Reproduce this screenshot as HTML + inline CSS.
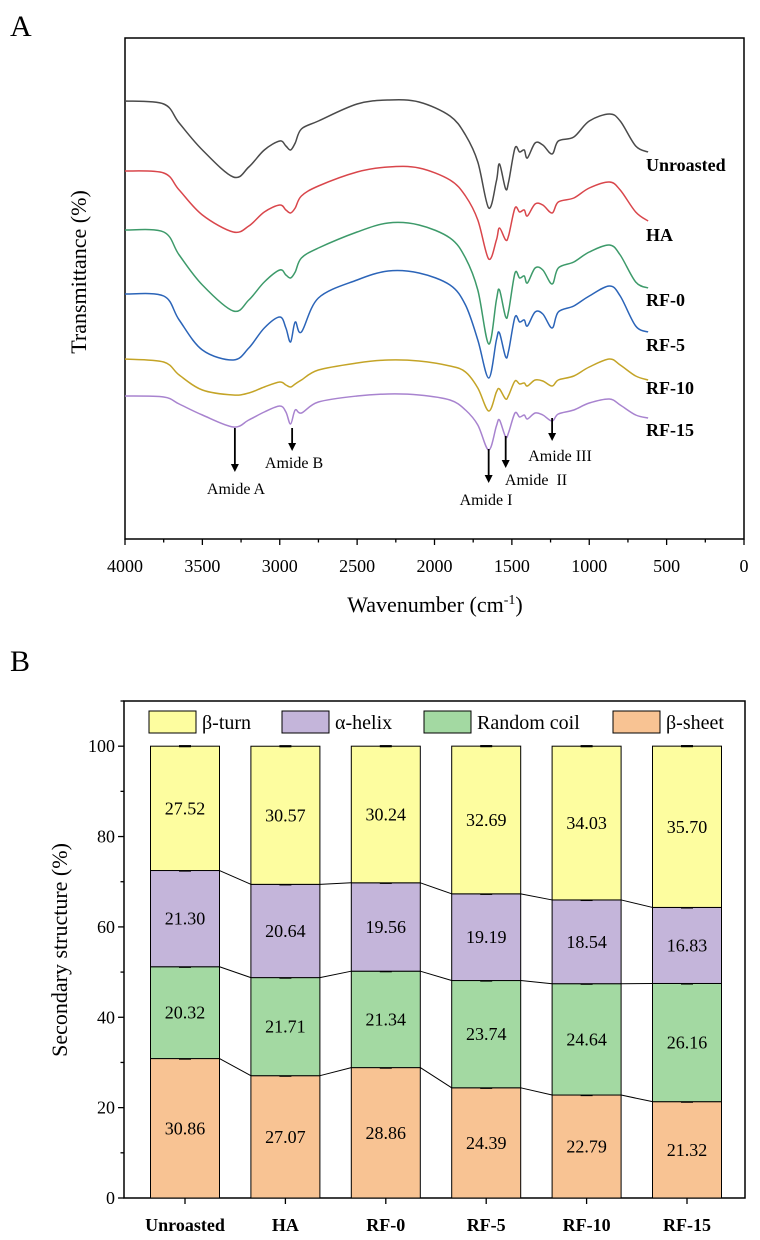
<!DOCTYPE html>
<html><head><meta charset="utf-8"><style>
html,body{margin:0;padding:0;background:#fff;}
svg{display:block;font-family:"Liberation Serif",serif;}
</style></head><body>
<svg id="fig" width="760" height="1240" viewBox="0 0 760 1240" xmlns="http://www.w3.org/2000/svg">
<text x="10" y="36" font-size="30">A</text>
<text x="10" y="671" font-size="30">B</text>
<g id="pa"></g>
<g id="pb"></g>
</svg>
<script>
// ---------- Panel A data ----------
const wavenumbers = [4000,3750,3650,3500,3300,3200,3100,3000,2960,2930,2900,2860,2750,2500,2300,2100,1900,1800,1720,1650,1600,1580,1540,1520,1480,1450,1420,1400,1350,1300,1240,1200,1100,1000,870,800,700,620];
// signal offset units (larger = lower on plot)
const unroasted = [101,104,123,150,177,167,150,141,146,150,143,129,121,104,100,102,116,135,162,208,181,164,189,181,148,152,150,158,143,145,154,141,137,121,114,121,146,152];
const ha = [171,173,190,215,232,226,212,205,210,213,208,196,186,172,167,168,180,196,220,259,240,228,240,235,208,212,210,216,204,205,213,202,198,188,182,190,212,221];
const rf0 = [230,232,255,285,311,300,282,270,275,278,272,258,248,232,223,225,238,258,290,344,300,290,317,310,273,278,276,283,268,270,284,268,262,252,245,255,282,288];
const rf5 = [294,296,320,350,360,348,328,317,328,342,322,332,298,280,271,273,285,305,340,378,340,333,357,350,317,322,320,326,312,314,328,312,306,296,286,296,326,332];
const rf10 = [359,362,375,390,395,393,387,382,385,387,384,380,370,363,360,361,366,372,388,411,392,389,399,395,381,384,383,386,380,381,386,380,376,367,359,365,376,380];
const rf15 = [396,397,404,415,427,420,412,406,412,424,410,413,402,396,394,395,400,410,425,450,426,420,437,432,413,417,415,419,413,415,421,414,410,403,399,405,415,418];
const seriesNames = ["Unroasted","HA","RF-0","RF-5","RF-10","RF-15"];
const seriesColors = ["#4a4a4a","#d9464b","#3d9a6a","#2b64b8","#c4a427","#a883cf"];
const xTicksA = [4000,3500,3000,2500,2000,1500,1000,500,0];
const amidePeaks = [3290,2920,1650,1540,1240];
const amideLabels = ["Amide A","Amide B","Amide I","Amide  II","Amide III"];

// ---------- Panel B data ----------
const samples = ["Unroasted","HA","RF-0","RF-5","RF-10","RF-15"];
const betaSheet = [30.86,27.07,28.86,24.39,22.79,21.32];
const randomCoil = [20.32,21.71,21.34,23.74,24.64,26.16];
const alphaHelix = [21.30,20.64,19.56,19.19,18.54,16.83];
const betaTurn = [27.52,30.57,30.24,32.69,34.03,35.70];
const yTicksB = [0,20,40,60,80,100];

const NS="http://www.w3.org/2000/svg";
function mk(parent,tag,attrs,text){const e=document.createElementNS(NS,tag);for(const k in attrs)e.setAttribute(k,attrs[k]);if(text!==undefined)e.textContent=text;parent.appendChild(e);return e;}
function smoothPath(pts){
  let d='M'+pts[0][0].toFixed(1)+','+pts[0][1].toFixed(1);
  for(let i=0;i<pts.length-1;i++){
    const p0=pts[i-1]||pts[i],p1=pts[i],p2=pts[i+1],p3=pts[i+2]||p2;
    const c1=[p1[0]+(p2[0]-p0[0])/6,p1[1]+(p2[1]-p0[1])/6];
    const c2=[p2[0]-(p3[0]-p1[0])/6,p2[1]-(p3[1]-p1[1])/6];
    d+=' C'+c1.map(v=>v.toFixed(1)).join(',')+' '+c2.map(v=>v.toFixed(1)).join(',')+' '+p2.map(v=>v.toFixed(1)).join(',');
  }
  return d;
}

// ---- Panel A ----
const pa=document.getElementById('pa');
const A={l:125,r:744,t:38,b:539};
const xA=v=>A.l+(4000-v)/4000*(A.r-A.l);
const yA=v=>A.t+(v-38)/(539-38)*(A.b-A.t);
let frame=mk(pa,'rect',{x:A.l,y:A.t,width:A.r-A.l,height:A.b-A.t,fill:'none',stroke:'#000','stroke-width':1.5});

for(let v=4000;v>=0;v-=250){
  const t=mk(pa,'line',{x1:xA(v),x2:xA(v),y1:A.b,y2:A.b+(v%500===0?6:3.5),stroke:'#000','stroke-width':1.3});
  
}
xTicksA.forEach(v=>{const t=mk(pa,'text',{x:xA(v),y:572,'font-size':18,'text-anchor':'middle'},String(v));
  });
let xt=mk(pa,'text',{x:435,y:612,'font-size':22,'text-anchor':'middle'});

xt.innerHTML='Wavenumber (cm<tspan dy="-8" font-size="14">-1</tspan><tspan dy="8">)</tspan>';
let yt=mk(pa,'text',{x:0,y:0,'font-size':22,'text-anchor':'middle',transform:'translate(86,272) rotate(-90)'},'Transmittance (%)');

const allSeries=[unroasted,ha,rf0,rf5,rf10,rf15];
const labelY=[165,235,300,345,388,430];
allSeries.forEach((s,i)=>{
  const pts=s.map((v,j)=>[xA(wavenumbers[j]),yA(v)]);
  const p=mk(pa,'path',{d:smoothPath(pts),fill:'none',stroke:seriesColors[i],'stroke-width':1.5,'stroke-linejoin':'round'});
  
  const lb=mk(pa,'text',{x:646,y:labelY[i]+6,'font-size':18,'font-weight':'bold'},seriesNames[i]);
  
});
const arrowFrom=[428,428,449,436,418], arrowTo=[472,451,483,468,441];
const amLX=[236,294,486,536,560], amLY=[494,468,505,485,461];
amidePeaks.forEach((w,i)=>{
  const x=xA(w);
  const l=mk(pa,'line',{x1:x,x2:x,y1:arrowFrom[i],y2:arrowTo[i]-7,stroke:'#000','stroke-width':1.8});
  
  const h=mk(pa,'polygon',{points:`${x-4},${arrowTo[i]-8} ${x+4},${arrowTo[i]-8} ${x},${arrowTo[i]}`,fill:'#000'});
  
  const t=mk(pa,'text',{x:amLX[i],y:amLY[i],'font-size':16,'text-anchor':'middle'},amideLabels[i]);
  t.style.whiteSpace='pre';
  
});

// ---- Panel B ----
const pb=document.getElementById('pb');
const B={l:124,r:745,t:701,b:1198};
const yB=v=>B.b-v/110*(B.b-B.t);
const step=(687-185)/5;
const xB=i=>185+i*step;
const bw=69;
let fb=mk(pb,'rect',{x:B.l,y:B.t,width:B.r-B.l,height:B.b-B.t,fill:'none',stroke:'#000','stroke-width':1.5});

for(let v=0;v<=110;v+=10){
  const t=mk(pb,'line',{x1:B.l-(v%20===0?6:3.5),x2:B.l,y1:yB(v),y2:yB(v),stroke:'#000','stroke-width':1.3});
  
}
yTicksB.forEach(v=>{const t=mk(pb,'text',{x:B.l-9,y:yB(v)+6,'font-size':18,'text-anchor':'end'},String(v));
  });
let ytb=mk(pb,'text',{x:0,y:0,'font-size':22,'text-anchor':'middle',transform:'translate(67,950) rotate(-90)'},'Secondary structure (%)');

const layers=[betaSheet,randomCoil,alphaHelix,betaTurn];
const layerColors=['#f8c393','#a3d9a2','#c4b5da','#fdfd9f'];
const layerNames=['beta-sheet','random-coil','alpha-helix','beta-turn'];
const cum=samples.map(()=>0);
const tops=[];
layers.forEach((arr,li)=>{
  const topRow=[];
  arr.forEach((v,i)=>{
    const y0=cum[i], y1=cum[i]+v;
    const r=mk(pb,'rect',{x:xB(i)-bw/2,y:yB(y1),width:bw,height:yB(y0)-yB(y1),fill:layerColors[li],stroke:'#000','stroke-width':1});
    
    const t=mk(pb,'text',{x:xB(i),y:yB((y0+y1)/2)+6,'font-size':18,'text-anchor':'middle'},v.toFixed(2));
    
    const e=mk(pb,'line',{x1:xB(i)-6,x2:xB(i)+6,y1:yB(y1),y2:yB(y1),stroke:'#000','stroke-width':2.2});
    
    cum[i]=y1;topRow.push(y1);
  });
  tops.push(topRow);
});
tops.slice(0,3).forEach(row=>{
  for(let i=0;i<row.length-1;i++){
    const l=mk(pb,'line',{x1:xB(i)+bw/2,x2:xB(i+1)-bw/2,y1:yB(row[i]),y2:yB(row[i+1]),stroke:'#000','stroke-width':1});
    
  }
});
samples.forEach((s,i)=>{
  const t=mk(pb,'line',{x1:xB(i),x2:xB(i),y1:B.b,y2:B.b+6,stroke:'#000','stroke-width':1.3});
  
  const lb=mk(pb,'text',{x:xB(i),y:1231,'font-size':18,'font-weight':'bold','text-anchor':'middle'},s);
  
});
const legX=[149,282,424,613];
const legText=['β-turn','α-helix','Random coil','β-sheet'];
const legCol=[layerColors[3],layerColors[2],layerColors[1],layerColors[0]];
legX.forEach((x,i)=>{
  const r=mk(pb,'rect',{x:x,y:711,width:47,height:22,fill:legCol[i],stroke:'#000','stroke-width':1});
  
  const t=mk(pb,'text',{x:x+53,y:729,'font-size':20},legText[i]);
  
});
</script>
</body></html>
